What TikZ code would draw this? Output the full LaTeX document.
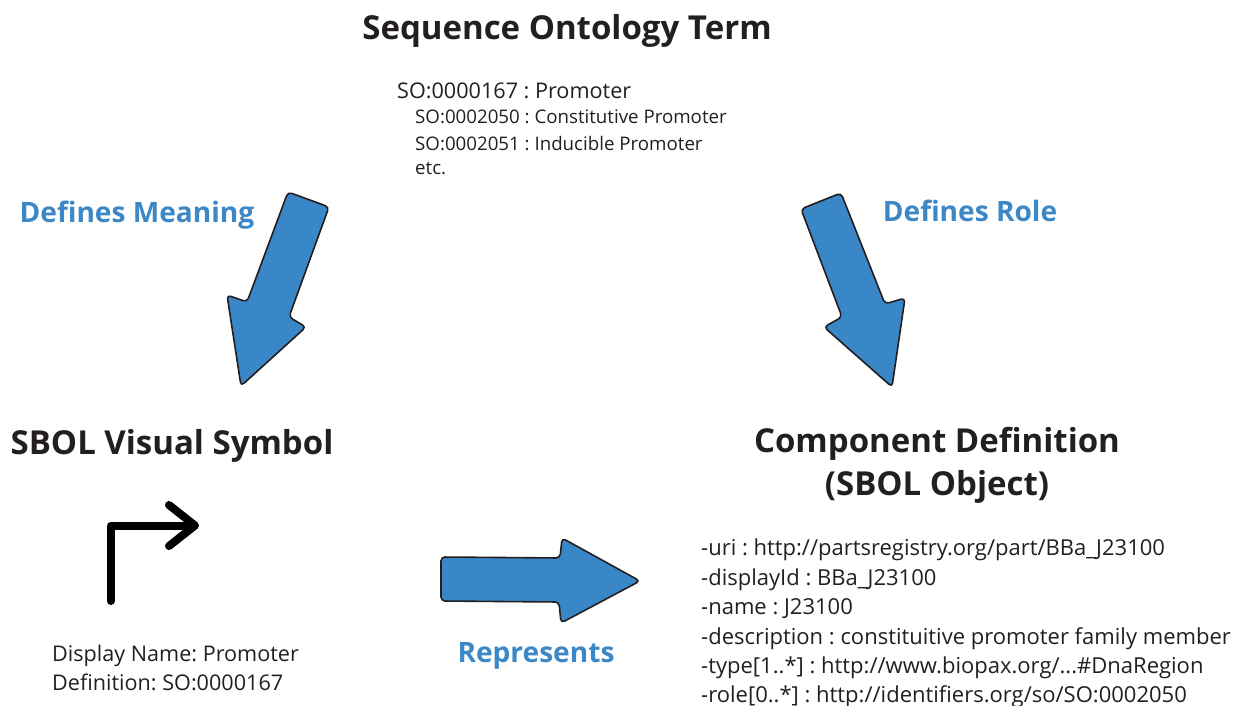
\documentclass[tikz,border=0pt]{standalone}
\usepackage{fontspec}
\setmainfont{Open Sans}
\definecolor{arrowblue}{HTML}{3A87C8}
\definecolor{labelblue}{HTML}{3C87C6}
\definecolor{ink}{HTML}{231F20}
\frenchspacing
\tikzset{
  x=1pt,y=-1pt,
  bigarrow/.style={draw=ink,fill=arrowblue,line width=1.6pt,rounded corners=4pt},
  heading/.style={font=\fontsize{33}{40}\selectfont\bfseries,text=ink,inner sep=0pt,align=center},
  bluelabel/.style={font=\fontsize{28.1}{34}\selectfont\bfseries,text=labelblue,inner sep=0pt,anchor=base},
  body/.style={font=\fontsize{22}{29.7}\selectfont,text=ink,inner sep=0pt,anchor=base west},
  bodyshort/.style={font=\fontsize{21.6}{29.7}\selectfont,text=ink,inner sep=0pt,anchor=base west},
  small/.style={font=\fontsize{18.7}{26}\selectfont,text=ink,inner sep=0pt,anchor=base west},
  symbolline/.style={draw=black,line width=8pt,line cap=round,line join=round},
}
\begin{document}
\begin{tikzpicture}
\frenchspacing
\useasboundingbox (0,0) rectangle (1239,706);
\node[heading,anchor=base] (title) at (567,40) {Sequence Ontology Term};
\node[bodyshort] (so1) at (397,99) {SO:0000167 : Promoter};
\node[small] (so2) at (415,124) {SO:0002050 : Constitutive Promoter};
\node[small] (so3) at (415,150) {SO:0002051 : Inducible Promoter};
\node[small] (so4) at (415,175) {etc.};
\node[bluelabel] (meaning) at (137,222) {Defines Meaning};
\node[bluelabel] (role) at (970,221) {Defines Role};
\node[bluelabel] (rep) at (536,662) {Represents};
\node[heading,anchor=base] (sbol) at (172,454) {SBOL Visual Symbol};
\node[heading,anchor=base] (cd1) at (937,452) {Component Definition};
\node[heading,anchor=base] (cd2) at (937,495) {(SBOL Object)};
\node[bodyshort] (d1) at (52,661) {Display Name: Promoter};
\node[bodyshort] (d2) at (52,690) {Definition: SO:0000167};
\node[body] (a1) at (701,555) {-uri : http://partsregistry.org/part/BBa\_J23100};
\node[body] (a2) at (701,585) {-displayId : BBa\_J23100};
\node[body] (a3) at (701,614) {-name : J23100};
\node[body] (a4) at (701,644) {-description : constituitive promoter family member};
\node[body] (a5) at (701,673.5) {-type[1..*] : http://www.biopax.org/...\#DnaRegion};
\node[body] (a6) at (701,702.5) {-role[0..*] : http://identifiers.org/so/SO:0002050};
% block arrows
\draw[bigarrow] (288,192) -- (329,207) -- (289,317) -- (306,327) -- (241,386) -- (227,295) -- (247,302) -- cycle;
\draw[bigarrow] (801,209) -- (841,193) -- (885,304) -- (905,298) -- (892,387) -- (824,327) -- (842,317) -- cycle;
\draw[bigarrow] (441,557) -- (560,558) -- (562,538) -- (640,581) -- (561,623) -- (559,602) -- (441,601) -- cycle;
% promoter glyph
\draw[symbolline] (110.7,601) -- (110.7,525.5) -- (192,525.5);
\draw[symbolline] (169,505) -- (195,525.5) -- (169,546);
\end{tikzpicture}
\end{document}
